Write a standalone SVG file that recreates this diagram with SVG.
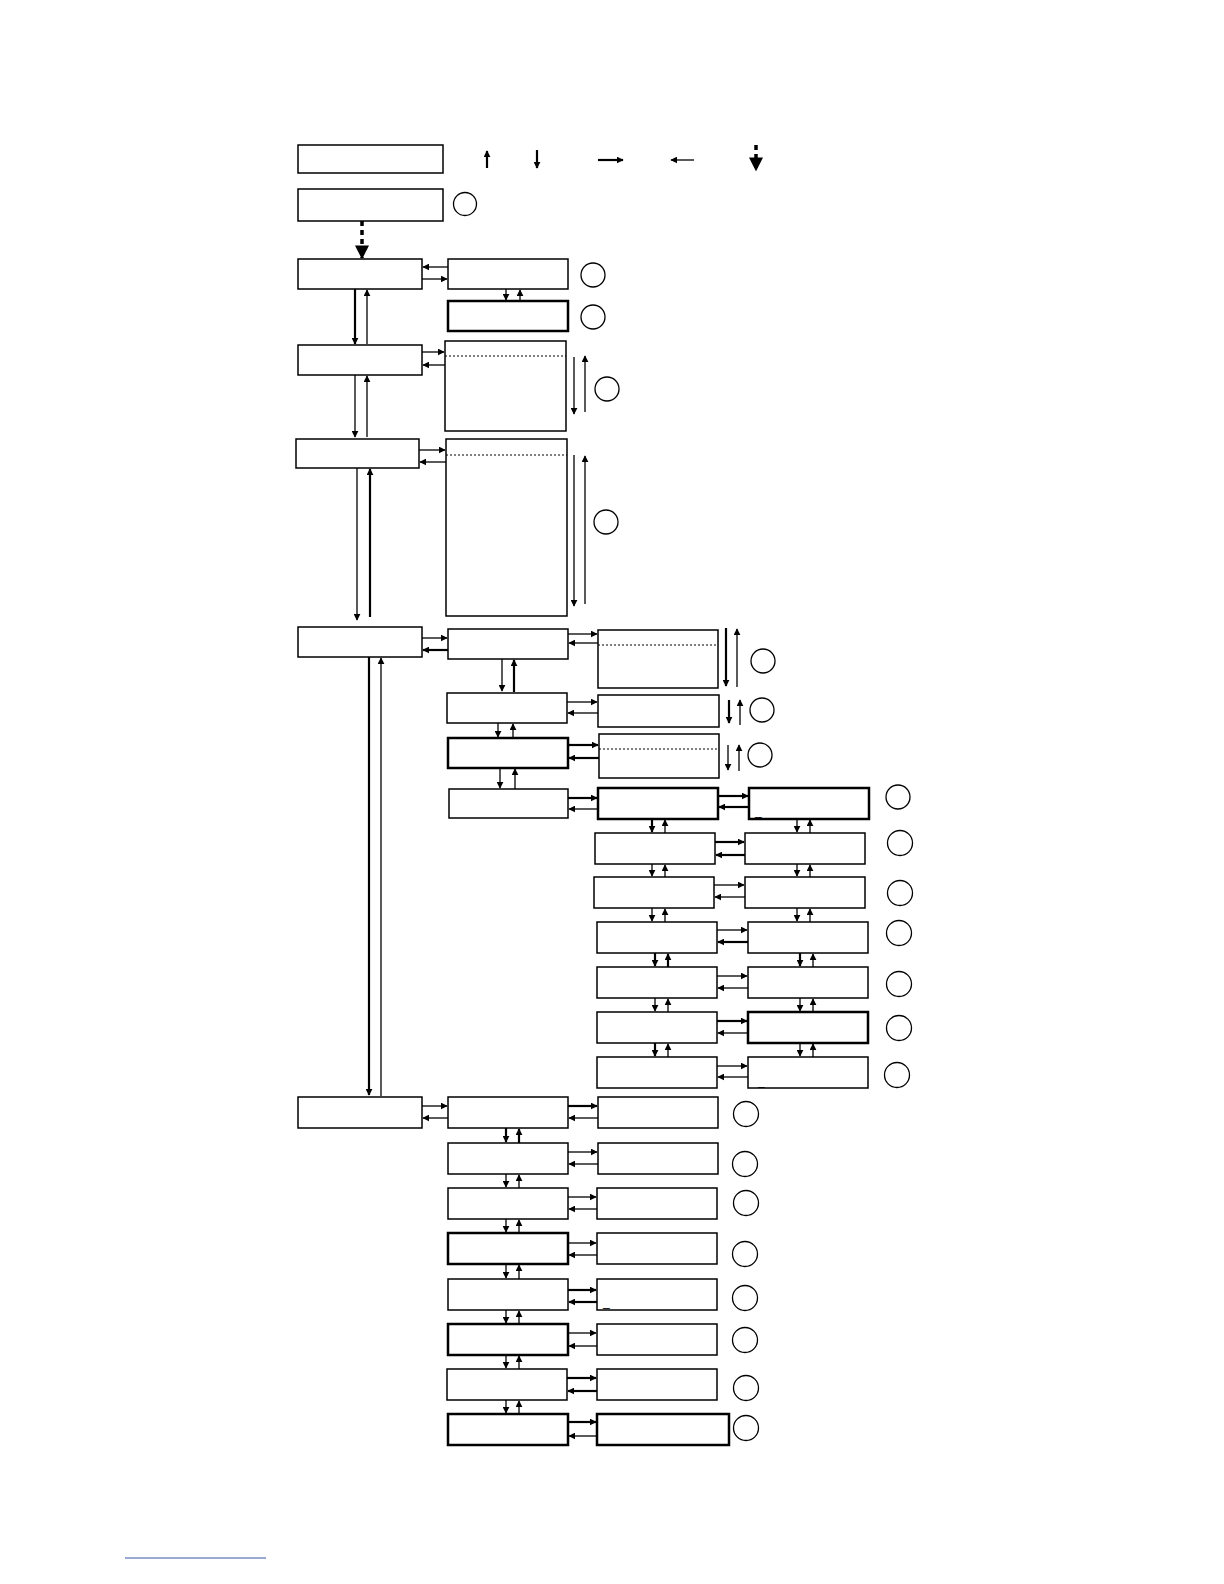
<svg xmlns="http://www.w3.org/2000/svg" width="1224" height="1584" viewBox="0 0 1224 1584">
<style>
.b{fill:#fff;stroke:#000;stroke-width:1.5}
.t{fill:#fff;stroke:#000;stroke-width:2.5}
.c{fill:none;stroke:#000;stroke-width:1.3}
.a{stroke:#000;stroke-width:1.3;fill:none;marker-end:url(#m)}
.k{stroke:#000;stroke-width:2.2;fill:none;marker-end:url(#m)}
.d{stroke:#000;stroke-width:1;stroke-dasharray:2 2}
.u{font-family:"Liberation Sans",sans-serif;font-size:12px}
</style>
<defs><marker id="m" viewBox="0 0 10 10" refX="9" refY="5" markerWidth="7" markerHeight="7" markerUnits="userSpaceOnUse" orient="auto"><path d="M0 0L10 5L0 10z"/></marker>
<marker id="mb" viewBox="0 0 10 10" refX="9" refY="5" markerWidth="4" markerHeight="4" orient="auto"><path d="M0 0L10 5L0 10z"/></marker></defs>
<rect width="1224" height="1584" fill="#fff"/>
<g id="legend">
<rect class="b" x="298" y="145" width="145" height="28"/>
<line class="k" x1="487" y1="168" x2="487" y2="151"/>
<line class="k" x1="537" y1="150" x2="537" y2="168"/>
<line class="k" x1="598" y1="160" x2="623" y2="160"/>
<line class="a" x1="694" y1="160" x2="671" y2="160"/>
<line x1="756" y1="145" x2="756" y2="170" stroke="#000" stroke-width="3.5" stroke-dasharray="5 4" marker-end="url(#mb)"/>
</g>
<g id="start"><rect class="b" x="298" y="189" width="145" height="32"/><circle class="c" cx="465" cy="204" r="11.5"/></g>
<g id="nodesA">
<rect class="b" x="298" y="259" width="124" height="30"/>
<rect class="b" x="298" y="345" width="124" height="30"/>
<rect class="b" x="296" y="439" width="123" height="29"/>
<rect class="b" x="298" y="627" width="124" height="30"/>
<rect class="b" x="298" y="1097" width="124" height="31"/>
</g>
<g id="nodesB">
<rect class="b" x="448" y="259" width="120" height="30"/><circle class="c" cx="593" cy="275" r="12"/>
<rect class="t" x="448" y="301" width="120" height="30"/><circle class="c" cx="593" cy="317" r="12"/>
<rect class="b" x="445" y="341" width="121" height="90"/><line class="d" x1="445" y1="356" x2="566" y2="356"/><circle class="c" cx="607" cy="389" r="12"/>
<rect class="b" x="446" y="439" width="121" height="177"/><line class="d" x1="446" y1="455" x2="567" y2="455"/><circle class="c" cx="606" cy="522" r="12"/>
</g>
<g id="nodesSet">
<rect class="b" x="448" y="629" width="120" height="30"/>
<rect class="b" x="598" y="630" width="120" height="58"/><line class="d" x1="598" y1="645" x2="718" y2="645"/><circle class="c" cx="763" cy="661" r="12"/>
<rect class="b" x="447" y="693" width="120" height="30"/>
<rect class="b" x="598" y="695" width="121" height="32"/><circle class="c" cx="762" cy="710" r="12"/>
<rect class="t" x="448" y="738" width="120" height="30"/>
<rect class="b" x="599" y="734" width="120" height="44"/><line class="d" x1="599" y1="749" x2="719" y2="749"/><circle class="c" cx="760" cy="755" r="12"/>
<rect class="b" x="449" y="789" width="119" height="29"/>
<rect class="t" x="598" y="788" width="120" height="31"/>
<rect class="t" x="749" y="788" width="120" height="31"/><text class="u" x="755" y="815">_</text><circle class="c" cx="898" cy="797" r="12"/>
<rect class="b" x="595" y="833" width="120" height="31"/><rect class="b" x="745" y="833" width="120" height="31"/><circle class="c" cx="900" cy="843" r="12.5"/>
<rect class="b" x="594" y="877" width="120" height="31"/><rect class="b" x="745" y="877" width="120" height="31"/><circle class="c" cx="900" cy="893" r="12.5"/>
<rect class="b" x="597" y="922" width="120" height="31"/><rect class="b" x="748" y="922" width="120" height="31"/><circle class="c" cx="899" cy="933" r="12.5"/>
<rect class="b" x="597" y="967" width="120" height="31"/><rect class="b" x="748" y="967" width="120" height="31"/><circle class="c" cx="899" cy="984" r="12.5"/>
<rect class="b" x="597" y="1012" width="120" height="31"/><rect class="t" x="748" y="1012" width="120" height="31"/><circle class="c" cx="899" cy="1028" r="12.5"/>
<rect class="b" x="597" y="1057" width="120" height="31"/><rect class="b" x="748" y="1057" width="120" height="31"/><text class="u" x="758" y="1085">_</text><circle class="c" cx="897" cy="1075" r="12.5"/>
</g>
<g id="nodesB2">
<rect class="b" x="448" y="1097" width="120" height="31"/><rect class="b" x="598" y="1097" width="120" height="31"/><circle class="c" cx="746" cy="1114" r="12.5"/>
<rect class="b" x="448" y="1143" width="120" height="31"/><rect class="b" x="598" y="1143" width="120" height="31"/><circle class="c" cx="745" cy="1164" r="12.5"/>
<rect class="b" x="448" y="1188" width="120" height="31"/><rect class="b" x="597" y="1188" width="120" height="31"/><circle class="c" cx="746" cy="1203" r="12.5"/>
<rect class="t" x="448" y="1233" width="120" height="31"/><rect class="b" x="597" y="1233" width="120" height="31"/><circle class="c" cx="745" cy="1254" r="12.5"/>
<rect class="b" x="448" y="1279" width="120" height="31"/><rect class="b" x="597" y="1279" width="120" height="31"/><text class="u" x="603" y="1306">_</text><circle class="c" cx="745" cy="1298" r="12.5"/>
<rect class="t" x="448" y="1324" width="120" height="31"/><rect class="b" x="597" y="1324" width="120" height="31"/><circle class="c" cx="745" cy="1340" r="12.5"/>
<rect class="b" x="447" y="1369" width="120" height="31"/><rect class="b" x="597" y="1369" width="120" height="31"/><circle class="c" cx="746" cy="1388" r="12.5"/>
<rect class="t" x="448" y="1414" width="120" height="31"/><rect class="t" x="597" y="1414" width="132" height="31"/><circle class="c" cx="746" cy="1428" r="12.5"/>
</g>
<g id="connectors">
<line x1="362" y1="221" x2="362" y2="258" stroke="#000" stroke-width="3.5" stroke-dasharray="5 4" marker-end="url(#mb)"/>
<line class="a" x1="448" y1="267" x2="423" y2="267"/><line class="a" x1="422" y1="279" x2="447" y2="279"/>
<line class="k" x1="355" y1="289" x2="355" y2="344"/><line class="a" x1="367" y1="344" x2="367" y2="290"/>
<line class="a" x1="506" y1="289" x2="506" y2="300"/><line class="a" x1="520" y1="301" x2="520" y2="290"/>
<line class="a" x1="422" y1="352" x2="444" y2="352"/><line class="a" x1="445" y1="365" x2="423" y2="365"/>
<line class="a" x1="574" y1="357" x2="574" y2="414"/><line class="a" x1="585" y1="412" x2="585" y2="356"/>
<line class="a" x1="355" y1="375" x2="355" y2="437"/><line class="a" x1="367" y1="437" x2="367" y2="376"/>
<line class="a" x1="419" y1="450" x2="445" y2="450"/><line class="a" x1="446" y1="462" x2="420" y2="462"/>
<line class="a" x1="574" y1="455" x2="574" y2="606"/><line class="a" x1="585" y1="604" x2="585" y2="456"/>
<line class="a" x1="357" y1="468" x2="357" y2="620"/><line class="k" x1="370" y1="617" x2="370" y2="469"/>
<line class="a" x1="422" y1="638" x2="447" y2="638"/><line class="k" x1="448" y1="650" x2="423" y2="650"/>
<line class="a" x1="568" y1="634" x2="597" y2="634"/><line class="a" x1="598" y1="643" x2="569" y2="643"/>
<line class="k" x1="726" y1="628" x2="726" y2="686"/><line class="a" x1="737" y1="687" x2="737" y2="629"/>
<line class="a" x1="502" y1="659" x2="502" y2="691"/><line class="k" x1="514" y1="692" x2="514" y2="660"/>
<line class="a" x1="567" y1="702" x2="597" y2="702"/><line class="a" x1="598" y1="713" x2="568" y2="713"/>
<line class="k" x1="729" y1="700" x2="729" y2="723"/><line class="a" x1="740" y1="725" x2="740" y2="700"/>
<line class="a" x1="498" y1="723" x2="498" y2="737"/><line class="a" x1="513" y1="738" x2="513" y2="724"/>
<line class="k" x1="568" y1="745" x2="598" y2="745"/><line class="k" x1="599" y1="758" x2="569" y2="758"/>
<line class="a" x1="728" y1="745" x2="728" y2="770"/><line class="a" x1="739" y1="771" x2="739" y2="745"/>
<line class="a" x1="500" y1="768" x2="500" y2="788"/><line class="a" x1="515" y1="789" x2="515" y2="769"/>
<line class="k" x1="568" y1="798" x2="597" y2="798"/><line class="a" x1="598" y1="809" x2="569" y2="809"/>
<line class="k" x1="718" y1="796" x2="748" y2="796"/><line class="k" x1="749" y1="807" x2="719" y2="807"/>
<g id="vC">
<line class="k" x1="652" y1="819" x2="652" y2="832"/><line class="a" x1="665" y1="833" x2="665" y2="820"/>
<line class="a" x1="652" y1="864" x2="652" y2="876"/><line class="a" x1="665" y1="877" x2="665" y2="865"/>
<line class="a" x1="652" y1="908" x2="652" y2="921"/><line class="a" x1="665" y1="922" x2="665" y2="909"/>
<line class="k" x1="655" y1="953" x2="655" y2="966"/><line class="k" x1="668" y1="967" x2="668" y2="954"/>
<line class="a" x1="655" y1="998" x2="655" y2="1011"/><line class="a" x1="668" y1="1012" x2="668" y2="999"/>
<line class="k" x1="655" y1="1043" x2="655" y2="1056"/><line class="a" x1="668" y1="1057" x2="668" y2="1044"/>
<line class="a" x1="797" y1="819" x2="797" y2="832"/><line class="a" x1="810" y1="833" x2="810" y2="820"/>
<line class="a" x1="797" y1="864" x2="797" y2="876"/><line class="a" x1="810" y1="877" x2="810" y2="865"/>
<line class="a" x1="797" y1="908" x2="797" y2="921"/><line class="a" x1="810" y1="922" x2="810" y2="909"/>
<line class="k" x1="800" y1="953" x2="800" y2="966"/><line class="a" x1="813" y1="967" x2="813" y2="954"/>
<line class="a" x1="800" y1="998" x2="800" y2="1011"/><line class="a" x1="813" y1="1012" x2="813" y2="999"/>
<line class="a" x1="800" y1="1043" x2="800" y2="1056"/><line class="a" x1="813" y1="1057" x2="813" y2="1044"/>
</g>
<g id="hCD">
<line class="k" x1="715" y1="842" x2="744" y2="842"/><line class="k" x1="745" y1="855" x2="716" y2="855"/>
<line class="a" x1="714" y1="885" x2="744" y2="885"/><line class="a" x1="745" y1="897" x2="715" y2="897"/>
<line class="a" x1="717" y1="930" x2="747" y2="930"/><line class="k" x1="748" y1="942" x2="718" y2="942"/>
<line class="a" x1="717" y1="976" x2="747" y2="976"/><line class="a" x1="748" y1="988" x2="718" y2="988"/>
<line class="k" x1="717" y1="1021" x2="747" y2="1021"/><line class="a" x1="748" y1="1033" x2="718" y2="1033"/>
<line class="a" x1="717" y1="1066" x2="747" y2="1066"/><line class="a" x1="748" y1="1077" x2="718" y2="1077"/>
</g>
<line class="k" x1="369" y1="657" x2="369" y2="1095"/><line class="a" x1="381" y1="1096" x2="381" y2="658"/>
<line class="a" x1="422" y1="1106" x2="447" y2="1106"/><line class="a" x1="448" y1="1118" x2="423" y2="1118"/>
<g id="hBC2">
<line class="k" x1="568" y1="1106" x2="597" y2="1106"/><line class="a" x1="598" y1="1118" x2="569" y2="1118"/>
<line class="a" x1="568" y1="1152" x2="597" y2="1152"/><line class="a" x1="598" y1="1164" x2="569" y2="1164"/>
<line class="a" x1="568" y1="1197" x2="596" y2="1197"/><line class="a" x1="597" y1="1209" x2="569" y2="1209"/>
<line class="a" x1="568" y1="1243" x2="596" y2="1243"/><line class="a" x1="597" y1="1255" x2="569" y2="1255"/>
<line class="k" x1="568" y1="1290" x2="596" y2="1290"/><line class="k" x1="597" y1="1302" x2="569" y2="1302"/>
<line class="a" x1="568" y1="1333" x2="596" y2="1333"/><line class="a" x1="597" y1="1346" x2="569" y2="1346"/>
<line class="k" x1="567" y1="1378" x2="596" y2="1378"/><line class="k" x1="597" y1="1391" x2="568" y2="1391"/>
<line class="k" x1="568" y1="1422" x2="596" y2="1422"/><line class="a" x1="597" y1="1436" x2="569" y2="1436"/>
</g>
<g id="vB2">
<line class="k" x1="506" y1="1128" x2="506" y2="1142"/><line class="k" x1="519" y1="1143" x2="519" y2="1129"/>
<line class="a" x1="506" y1="1174" x2="506" y2="1187"/><line class="a" x1="519" y1="1188" x2="519" y2="1175"/>
<line class="a" x1="506" y1="1219" x2="506" y2="1232"/><line class="a" x1="519" y1="1233" x2="519" y2="1220"/>
<line class="a" x1="506" y1="1264" x2="506" y2="1278"/><line class="a" x1="519" y1="1279" x2="519" y2="1265"/>
<line class="a" x1="506" y1="1310" x2="506" y2="1323"/><line class="a" x1="519" y1="1324" x2="519" y2="1311"/>
<line class="a" x1="506" y1="1355" x2="506" y2="1368"/><line class="a" x1="519" y1="1369" x2="519" y2="1356"/>
<line class="a" x1="506" y1="1400" x2="506" y2="1413"/><line class="a" x1="519" y1="1414" x2="519" y2="1401"/>
</g>
</g>
<line x1="125" y1="1558" x2="266" y2="1558" stroke="#3355aa" stroke-width="1"/>
</svg>
